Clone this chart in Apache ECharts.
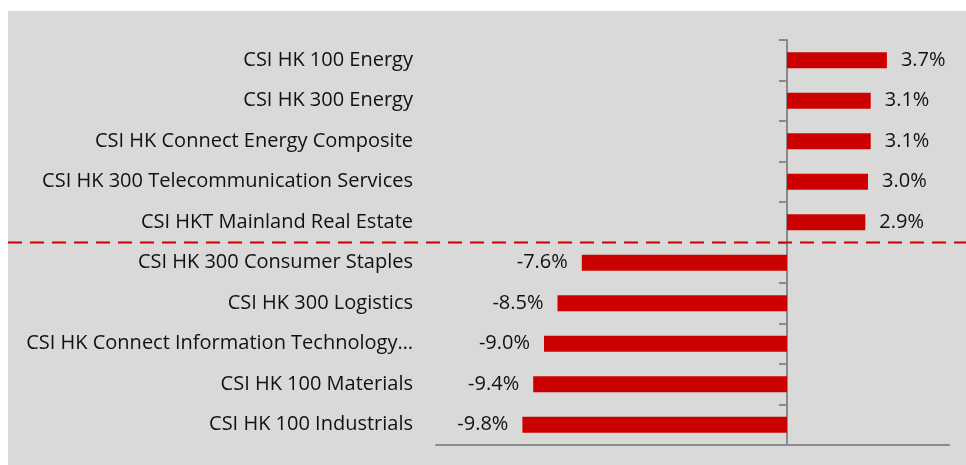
<!DOCTYPE html>
<html>
<head>
<meta charset="utf-8">
<script src="https://cdn.jsdelivr.net/npm/echarts@6/dist/echarts.min.js"></script>
<style>
  html, body { margin: 0; padding: 0; background: #fff; }
  #chart {
    position: absolute;
    left: 8px;
    top: 11px;
    width: 958px;
    height: 454px;
    background: #d9d9d9;
  }
</style>
</head>
<body>
<div id="chart"></div>
<script>
// index names, top to bottom
const categories = [
  'CSI HK 100 Energy',
  'CSI HK 300 Energy',
  'CSI HK Connect Energy Composite',
  'CSI HK 300 Telecommunication Services',
  'CSI HKT Mainland Real Estate',
  'CSI HK 300 Consumer Staples',
  'CSI HK 300 Logistics',
  'CSI HK Connect Information Technology…',
  'CSI HK 100 Materials',
  'CSI HK 100 Industrials'
]
// return in %
const returns = [3.7, 3.1, 3.1, 3.0, 2.9, -7.6, -8.5, -9.0, -9.4, -9.8]
// the divider sits after the 5 top performers
const dividerAfter = 5

const axisGrey = '#8a8a8a'
const red = '#cc0000'
const font = '"Open Sans", "Noto Sans", sans-serif'

const chart = echarts.init(document.getElementById('chart'))

const barData = returns.map(v => ({
  value: v,
  label: { position: v < 0 ? 'left' : 'right' }
}))

chart.setOption({
  animation: false,
  textStyle: { fontFamily: font },
  grid: [
    { left: 428, right: 17, top: 29, bottom: 20 },
    // full width grid only used for the dashed divider
    { left: 0, right: 0, top: 29, bottom: 20 }
  ],
  xAxis: [
    {
      type: 'value',
      min: -13,
      max: 6,
      gridIndex: 0,
      axisLine: { show: true, onZero: false, lineStyle: { color: axisGrey, width: 2 } },
      axisTick: { show: false },
      axisLabel: { show: false },
      splitLine: { show: false }
    },
    {
      type: 'value',
      min: 0,
      max: 1,
      gridIndex: 1,
      show: false
    }
  ],
  yAxis: [
    {
      // labels only, at the left of the plot
      type: 'category',
      data: categories,
      inverse: true,
      gridIndex: 0,
      position: 'left',
      axisLine: { show: false, onZero: false },
      axisTick: { show: false },
      axisLabel: {
        margin: 23,
        fontSize: 20,
        color: '#111',
        fontFamily: font,
        padding: [5, 0, 0, 0]
      }
    },
    {
      // the zero line with its ticks
      type: 'category',
      data: categories,
      inverse: true,
      gridIndex: 0,
      position: 'left',
      axisLine: { show: true, onZero: true, lineStyle: { color: axisGrey, width: 2 } },
      axisTick: { show: true, length: 8, lineStyle: { color: axisGrey, width: 2 } },
      axisLabel: { show: false }
    },
    {
      type: 'value',
      min: 0,
      max: categories.length,
      inverse: true,
      gridIndex: 1,
      show: false
    }
  ],
  series: [
    {
      type: 'bar',
      xAxisIndex: 0,
      yAxisIndex: 0,
      data: barData,
      barWidth: 16,
      itemStyle: { color: red },
      label: {
        show: true,
        distance: 14,
        fontSize: 20,
        color: '#111',
        fontFamily: font,
        padding: [4, 0, 0, 0],
        formatter: p => p.value.toFixed(1) + '%'
      }
    },
    {
      type: 'line',
      xAxisIndex: 1,
      yAxisIndex: 2,
      data: [[0, dividerAfter], [1, dividerAfter]],
      symbol: 'none',
      lineStyle: { color: red, width: 2, type: [14, 8] },
      silent: true
    }
  ]
})
</script>
</body>
</html>
